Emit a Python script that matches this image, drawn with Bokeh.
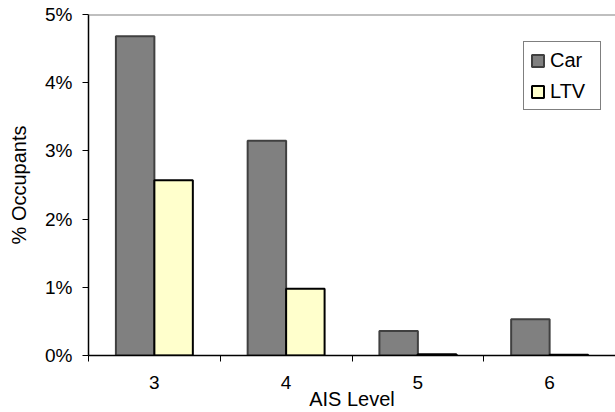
from bokeh.plotting import figure
from bokeh.models import (ColumnDataSource, FixedTicker, Span, Legend, LegendItem,
                          PrintfTickFormatter, Range1d)
from bokeh.embed import file_html
from bokeh.resources import INLINE

# Data
categories = ["3", "4", "5", "6"]
car = [4.68, 3.15, 0.36, 0.53]
ltv = [2.57, 0.98, 0.02, 0.01]
series_names = ["Car", "LTV"]
y_ticks = [0, 1, 2, 3, 4, 5]

FONT = "Liberation Sans"
centers = [i + 0.5 for i in range(len(categories))]
bw = 0.292

src = ColumnDataSource(dict(
    xc=[c - bw / 2 for c in centers],
    xl=[c + bw / 2 for c in centers],
    car=car, ltv=ltv))

p = figure(width=615, height=412, output_backend="svg", toolbar_location=None,
           x_range=Range1d(0, len(categories)), y_range=Range1d(0, 5),
           min_border_left=88, min_border_right=0, min_border_top=14,
           min_border_bottom=57)
p.outline_line_color = None
p.xgrid.visible = False
p.ygrid.visible = False
p.background_fill_color = "white"
p.border_fill_color = "white"

r_car = p.vbar(x="xc", top="car", width=bw, bottom=0, source=src,
               fill_color="#808080", line_color="#404040", line_width=2)
r_ltv = p.vbar(x="xl", top="ltv", width=bw, bottom=0, source=src,
               fill_color="#FFFFCC", line_color="#000000", line_width=2)

p.add_layout(Span(location=5, dimension="width", line_color="#808080", line_width=2))

# x axis
xa = p.xaxis[0]
xa.ticker = FixedTicker(ticks=centers, minor_ticks=list(range(len(categories) + 1)))
xa.major_label_overrides = {c: lab for c, lab in zip(centers, categories)}
xa.major_tick_line_color = None
xa.major_tick_out = 6
xa.major_tick_in = 0
xa.minor_tick_out = 6
xa.minor_tick_in = 0
xa.minor_tick_line_color = "black"
xa.axis_line_color = "black"
xa.axis_line_width = 1.5
xa.major_label_text_font = FONT
xa.major_label_text_font_size = "19px"
xa.major_label_text_color = "black"
xa.major_label_standoff = 14
xa.axis_label = "AIS Level"
xa.axis_label_text_font = FONT
xa.axis_label_text_font_size = "20px"
xa.axis_label_text_font_style = "normal"
xa.axis_label_text_color = "black"
xa.axis_label_standoff = -4

# y axis
ya = p.yaxis[0]
ya.ticker = FixedTicker(ticks=y_ticks, minor_ticks=[])
ya.formatter = PrintfTickFormatter(format="%d%%")
ya.major_tick_out = 6
ya.major_tick_in = 0
ya.major_tick_line_color = "black"
ya.axis_line_color = "black"
ya.axis_line_width = 1.5
ya.major_label_text_font = FONT
ya.major_label_text_font_size = "19px"
ya.major_label_text_color = "black"
ya.major_label_standoff = 10
ya.axis_label = "% Occupants"
ya.axis_label_text_font = FONT
ya.axis_label_text_font_size = "20px"
ya.axis_label_text_font_style = "normal"
ya.axis_label_text_color = "black"
ya.axis_label_standoff = 12

legend = Legend(items=[LegendItem(label=series_names[0], renderers=[r_car]),
                       LegendItem(label=series_names[1], renderers=[r_ltv])],
                location=(435, 245))
legend.border_line_color = "black"
legend.border_line_width = 1
legend.background_fill_color = "white"
legend.label_text_font = FONT
legend.label_text_font_size = "20px"
legend.label_text_color = "black"
legend.glyph_width = 15
legend.glyph_height = 15
legend.label_standoff = 5
legend.label_width = 44
legend.label_height = 24
legend.padding = 6
legend.spacing = 7
legend.margin = 0
p.add_layout(legend)

open("out.html", "w").write(file_html(p, INLINE))
